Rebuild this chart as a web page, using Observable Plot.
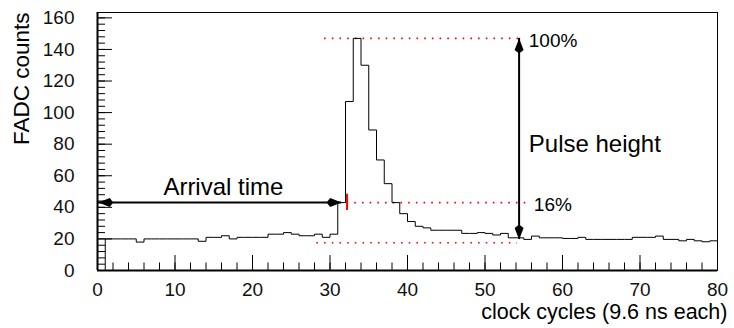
<!DOCTYPE html>
<html>
<head>
<meta charset="utf-8">
<script src="https://cdn.jsdelivr.net/npm/d3@7"></script>
<script src="https://cdn.jsdelivr.net/npm/@observablehq/plot@0.6"></script>
<style>
  html, body { margin: 0; padding: 0; background: #fff; }
  #chart svg { display: block; }
</style>
</head>
<body>
<div id="chart"></div>
<script>
// FADC counts per clock-cycle bin (bin i spans [i, i+1)), bins 0..79
const counts = [
  0, 20, 20, 20, 20, 18, 20, 20, 20, 20, 20, 20, 20,
  18.5, 21, 21, 22, 20, 21, 21, 21, 21, 23, 23, 24, 23, 22, 22, 23, 21, 23,
  43, 107, 147, 130, 89, 70, 55, 43, 36, 31, 28, 27,
  25.5, 25.5, 25.5, 25.5, 23.5, 23.5, 24, 23.5, 22.5, 23.5,
  20.7, 20.7, 19.7, 21.8, 20.7, 20.7, 20.7, 20.3, 20.3, 21,
  19.7, 19.7, 19.7, 19.7, 19.7, 19.7, 21, 21, 21, 21.8,
  19.7, 19.7, 18.8, 19.7, 18.8, 18.2, 18.8
];

// Axis ticks
const xMajorTicks = [0, 10, 20, 30, 40, 50, 60, 70, 80];
const xMinorTicks = [0, 2, 4, 6, 8, 10, 12, 14, 16, 18, 20, 22, 24, 26, 28, 30, 32, 34, 36, 38, 40,
                     42, 44, 46, 48, 50, 52, 54, 56, 58, 60, 62, 64, 66, 68, 70, 72, 74, 76, 78, 80];
const yMajorTicks = [0, 20, 40, 60, 80, 100, 120, 140, 160];
const yMinorTicks = [0, 4, 8, 12, 16, 20, 24, 28, 32, 36, 40, 44, 48, 52, 56, 60, 64, 68, 72, 76, 80,
                     84, 88, 92, 96, 100, 104, 108, 112, 116, 120, 124, 128, 132, 136, 140, 144, 148, 152, 156, 160];

// Annotation levels (FADC counts) and extents (clock cycles)
const dottedLevels = [
  {y: 147, x1: 29.3, x2: 54.4},   // 100 %
  {y: 43,  x1: 32.2, x2: 55.5},   // 16 %
  {y: 17.6, x1: 28.3, x2: 54.2}   // baseline
];
const arrivalMarker = [{x: 32.2, y1: 38, y2: 48.3}];
const pulseArrow = [{x: 54.4, y1: 19.7, y2: 147}];
const arrivalArrow = [{y: 43, x1: 0.1, x2: 31.5}];
const bigLabels = [
  {x: 8.5, y: 48.1, text: "Arrival time"},
  {x: 55.65, y: 74.9, text: "Pulse height"}
];
const smallLabels = [
  {x: 55.65, y: 141.8, text: "100%"},
  {x: 56.3, y: 37.5, text: "16%"}
];
const xTitle = ["clock cycles (9.6 ns each)"];
const yTitle = ["FADC counts"];

if (counts.length !== 80) console.error("expected 80 bins, got " + counts.length);

// step line from the bins
const steps = counts.map((c, i) => ({x: i, y: c})).concat([{x: 80, y: counts[counts.length - 1]}]);

// arrowheads at the ends of the two arrows
const heads = [
  {x: pulseArrow[0].x, y: pulseArrow[0].y2, rotate: 0},
  {x: pulseArrow[0].x, y: pulseArrow[0].y1, rotate: 180},
  {x: arrivalArrow[0].x1, y: arrivalArrow[0].y, rotate: -90},
  {x: arrivalArrow[0].x2, y: arrivalArrow[0].y, rotate: 90}
];
const arrowHead = {
  draw(ctx) {
    ctx.moveTo(0, 0);
    ctx.lineTo(4.5, 11.5);
    ctx.lineTo(0, 15);
    ctx.lineTo(-4.5, 11.5);
    ctx.closePath();
  }
};

const W = 734, H = 328, ML = 97, MR = 17, MT = 12, MB = 58;
const FW = W - ML - MR, FH = H - MT - MB;
const font = "'Liberation Sans', Arial, Helvetica, sans-serif";

const chart = Plot.plot({
  width: W,
  height: H,
  marginLeft: ML,
  marginRight: MR,
  marginTop: MT,
  marginBottom: MB,
  style: {fontFamily: font, background: "#fff", color: "#000", overflow: "visible"},
  x: {domain: [0, 80], label: null},
  y: {domain: [0, 163.4], label: null},
  marks: [
    // red dotted reference levels
    Plot.ruleY(dottedLevels, {y: "y", x1: "x1", x2: "x2", stroke: "#ff0000", strokeWidth: 1.6, strokeDasharray: "1.6,6.1"}),
    // histogram
    Plot.line(steps, {x: "x", y: "y", curve: "step-after", stroke: "#000", strokeWidth: 1}),
    // arrows
    Plot.ruleX(pulseArrow, {x: "x", y1: "y1", y2: "y2", stroke: "#000", strokeWidth: 2}),
    Plot.ruleY(arrivalArrow, {y: "y", x1: "x1", x2: "x2", stroke: "#000", strokeWidth: 2}),
    Plot.dot(heads, {x: "x", y: "y", rotate: "rotate", symbol: arrowHead, fill: "#000", stroke: "none"}),
    // red arrival marker
    Plot.ruleX(arrivalMarker, {x: "x", y1: "y1", y2: "y2", stroke: "#ff0000", strokeWidth: 2}),
    // frame and axes lines
    Plot.frame({stroke: "#000", strokeWidth: 1}),
    Plot.ruleX([0], {stroke: "#000", strokeWidth: 2}),
    Plot.ruleY([0], {stroke: "#000", strokeWidth: 2}),
    // inward ticks
    Plot.tickY(yMajorTicks, {y: d => d, insetRight: FW - 15, stroke: "#000", strokeWidth: 1}),
    Plot.tickY(yMinorTicks, {y: d => d, insetRight: FW - 8, stroke: "#000", strokeWidth: 1}),
    Plot.tickX(xMajorTicks, {x: d => d, insetTop: FH - 15, stroke: "#000", strokeWidth: 1}),
    Plot.tickX(xMinorTicks, {x: d => d, insetTop: FH - 7.5, stroke: "#000", strokeWidth: 1}),
    // tick labels
    Plot.axisY(yMajorTicks, {tickSize: 0, tickPadding: 23, fontSize: 19, label: null, fill: "#111"}),
    Plot.axisX(xMajorTicks, {tickSize: 0, tickPadding: 11.5, fontSize: 19, label: null, fill: "#111"}),
    // axis titles
    Plot.text(yTitle, {frameAnchor: "top-left", dx: 28 - ML, rotate: -90, textAnchor: "end", lineAnchor: "bottom", fontSize: 22.5, fill: "#000"}),
    Plot.text(xTitle, {frameAnchor: "bottom-right", dx: 10, dy: 48, textAnchor: "end", lineAnchor: "bottom", fontSize: 21.5, fill: "#000"}),
    // annotation texts
    Plot.text(bigLabels, {x: "x", y: "y", text: "text", textAnchor: "start", lineAnchor: "bottom", fontSize: 24, fill: "#000"}),
    Plot.text(smallLabels, {x: "x", y: "y", text: "text", textAnchor: "start", lineAnchor: "bottom", fontSize: 19, fill: "#000"})
  ]
});

document.getElementById("chart").appendChild(chart);
</script>
</body>
</html>
